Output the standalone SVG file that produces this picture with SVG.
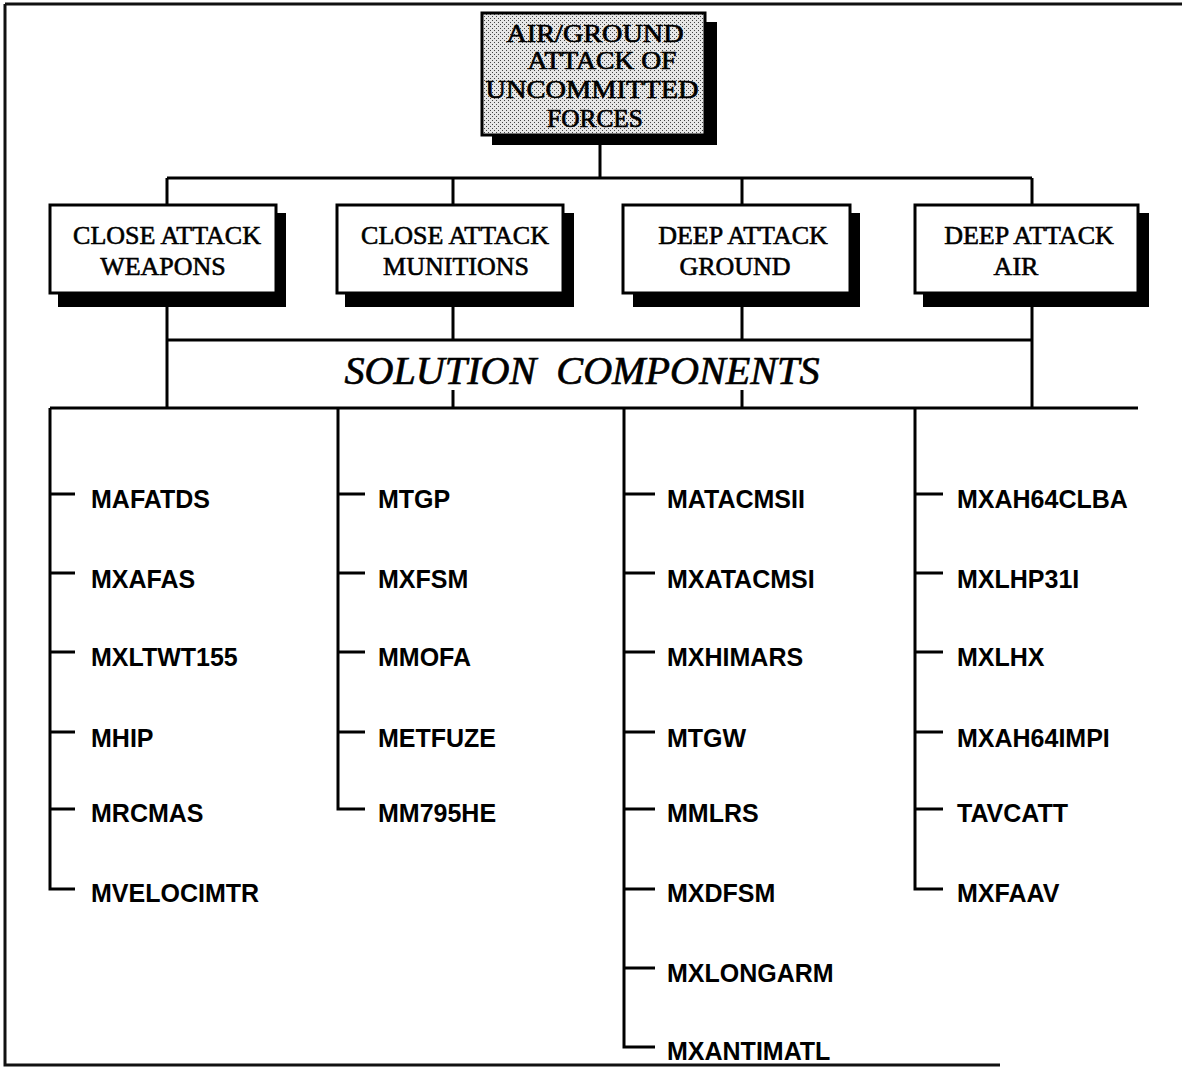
<svg xmlns="http://www.w3.org/2000/svg" width="1182" height="1070" viewBox="0 0 1182 1070">
<style>
.ln{stroke:#000;stroke-width:3;fill:none}
.frame{stroke:#111;stroke-width:3;fill:none}
.box{fill:#fff;stroke:#000;stroke-width:3}
.shadow{fill:#000}
.ttl{font-family:"Liberation Serif",serif;font-size:26px;fill:#000;stroke:#000;stroke-width:0.7;text-anchor:middle}
.hd{font-family:"Liberation Serif",serif;font-size:26px;fill:#000;stroke:#000;stroke-width:0.6;text-anchor:middle}
.sol{font-family:"Liberation Serif",serif;font-size:40px;font-style:italic;fill:#000;stroke:#000;stroke-width:0.7;text-anchor:middle}
.it{font-family:"Liberation Sans",Arial,sans-serif;font-size:25px;font-weight:bold;fill:#000}
</style>
<defs>
<pattern id="dots" width="4" height="4" patternUnits="userSpaceOnUse">
<rect width="4" height="4" fill="#e6e6e6"/>
<rect x="0" y="0" width="1" height="1" fill="#444"/>
<rect x="2" y="2" width="1" height="1" fill="#444"/>
</pattern>
</defs>
<rect width="1182" height="1070" fill="#fff"/>
<g id="frame">
<path class="frame" d="M5,4 H1182 M5,4 V1065 H1000"/>
</g>
<g id="connectors">
<path class="ln" d="M600,140 V178 M167,178 H1032 M167,178 V205 M453,178 V205 M742,178 V205 M1032,178 V205"/>
<path class="ln" d="M167,300 V408 M1032,300 V408 M453,300 V340 M742,300 V340 M167,340 H1032 M453,390 V408 M742,390 V408 M50,408 H1138"/>
<path class="ln" d="M50,408 V889 H75 M50,494 H75 M50,573 H75 M50,652 H75 M50,732 H75 M50,809 H75"/>
<path class="ln" d="M338,408 V809 H365 M338,494 H365 M338,573 H365 M338,652 H365 M338,732 H365"/>
<path class="ln" d="M624,408 V1047 H655 M624,494 H655 M624,573 H655 M624,652 H655 M624,732 H655 M624,809 H655 M624,889 H655 M624,968 H655"/>
<path class="ln" d="M915,408 V889 H943 M915,494 H943 M915,573 H943 M915,652 H943 M915,732 H943 M915,809 H943"/>
</g>
<g id="root">
<rect class="shadow" x="492" y="22" width="225" height="123"/>
<rect x="482" y="13" width="223" height="122" fill="url(#dots)" stroke="#000" stroke-width="3"/>
<text class="ttl" x="595" y="42" textLength="177" lengthAdjust="spacingAndGlyphs">AIR/GROUND</text>
<text class="ttl" x="602" y="69" textLength="149" lengthAdjust="spacingAndGlyphs">ATTACK OF</text>
<text class="ttl" x="592" y="98" textLength="213" lengthAdjust="spacingAndGlyphs">UNCOMMITTED</text>
<text class="ttl" x="595" y="127" textLength="96" lengthAdjust="spacingAndGlyphs">FORCES</text>
</g>
<g id="n1">
<rect class="shadow" x="58" y="213" width="228" height="94"/>
<rect class="box" x="50" y="205" width="226" height="88"/>
<text class="hd" x="167" y="244">CLOSE ATTACK</text>
<text class="hd" x="163" y="275">WEAPONS</text>
</g>
<g id="n2">
<rect class="shadow" x="345" y="213" width="229" height="94"/>
<rect class="box" x="337" y="205" width="226" height="88"/>
<text class="hd" x="455" y="244">CLOSE ATTACK</text>
<text class="hd" x="456" y="275">MUNITIONS</text>
</g>
<g id="n3">
<rect class="shadow" x="633" y="213" width="227" height="94"/>
<rect class="box" x="623" y="205" width="227" height="88"/>
<text class="hd" x="743" y="244">DEEP ATTACK</text>
<text class="hd" x="735" y="275">GROUND</text>
</g>
<g id="n4">
<rect class="shadow" x="923" y="213" width="226" height="94"/>
<rect class="box" x="915" y="205" width="223" height="88"/>
<text class="hd" x="1029" y="244">DEEP ATTACK</text>
<text class="hd" x="1016" y="275">AIR</text>
</g>
<g id="solution">
<text class="sol" x="582" y="384" textLength="475" lengthAdjust="spacingAndGlyphs">SOLUTION&#160; COMPONENTS</text>
</g>
<g id="col1">
<text class="it" x="91" y="508">MAFATDS</text>
<text class="it" x="91" y="588">MXAFAS</text>
<text class="it" x="91" y="666">MXLTWT155</text>
<text class="it" x="91" y="747">MHIP</text>
<text class="it" x="91" y="822">MRCMAS</text>
<text class="it" x="91" y="902">MVELOCIMTR</text>
</g>
<g id="col2">
<text class="it" x="378" y="508">MTGP</text>
<text class="it" x="378" y="588">MXFSM</text>
<text class="it" x="378" y="666">MMOFA</text>
<text class="it" x="378" y="747">METFUZE</text>
<text class="it" x="378" y="822">MM795HE</text>
</g>
<g id="col3">
<text class="it" x="667" y="508">MATACMSII</text>
<text class="it" x="667" y="588">MXATACMSI</text>
<text class="it" x="667" y="666">MXHIMARS</text>
<text class="it" x="667" y="747">MTGW</text>
<text class="it" x="667" y="822">MMLRS</text>
<text class="it" x="667" y="902">MXDFSM</text>
<text class="it" x="667" y="982">MXLONGARM</text>
<text class="it" x="667" y="1060">MXANTIMATL</text>
</g>
<g id="col4">
<text class="it" x="957" y="508">MXAH64CLBA</text>
<text class="it" x="957" y="588">MXLHP31I</text>
<text class="it" x="957" y="666">MXLHX</text>
<text class="it" x="957" y="747">MXAH64IMPI</text>
<text class="it" x="957" y="822">TAVCATT</text>
<text class="it" x="957" y="902">MXFAAV</text>
</g>
</svg>
